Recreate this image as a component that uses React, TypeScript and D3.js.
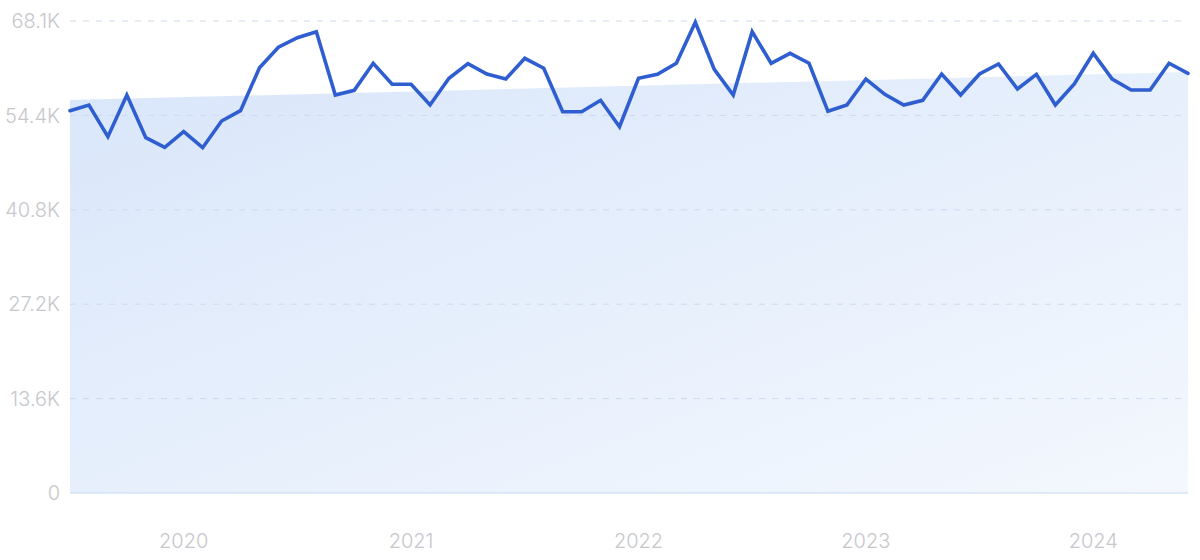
import React from "react";
import * as d3 from "d3";

// Monthly values, Jul 2019 .. Jun 2024
const months: string[] = d3
  .timeMonths(new Date(2019, 6, 1), new Date(2024, 6, 1))
  .map((d) => d3.timeFormat("%Y-%m")(d));

const values: number[] = [
  55160, 55980, 51410, 57420, 51260, 49880, 52130, 49820, 53670, 55160,
  61360, 64310, 65690, 66560, 57420, 58100, 62000, 58970, 58970, 55980,
  59830, 61940, 60450, 59730, 62720, 61280, 55010, 55010, 56660, 52850,
  59830, 60410, 62000, 67910, 61130, 57420, 66560, 62000, 63440, 62000,
  55070, 55980, 59730, 57520, 55980, 56660, 60450, 57420, 60450, 61900,
  58290, 60410, 55980, 59010, 63440, 59730, 58150, 58150, 62000, 60550,
];

// Trend (start, end) shown as the shaded area
const trendValues: number[] = [56700, 60750];

const yTicks: number[] = [0, 13620, 27240, 40860, 54480, 68100];
const yTickLabels: string[] = ["0", "13.6K", "27.2K", "40.8K", "54.4K", "68.1K"];
const yearLabels: string[] = ["2020", "2021", "2022", "2023", "2024"];

const W = 1200;
const H = 560;
const left = 70;
const right = 1188;
const top = 21;
const bottom = 493;

export default function App() {
  const x = d3.scalePoint<string>().domain(months).range([left, right]);
  const y = d3.scaleLinear().domain([0, 68100]).range([bottom, top]);

  const line = d3
    .line<number>()
    .x((_, i) => x(months[i]) as number)
    .y((d) => y(d));

  const trendPts: [number, number][] = [
    [x(months[0]) as number, y(trendValues[0])],
    [x(months[months.length - 1]) as number, y(trendValues[1])],
  ];
  const area = d3
    .area<[number, number]>()
    .x((d) => d[0])
    .y0(y(0))
    .y1((d) => d[1]);

  const font = "Inter, 'Noto Sans', sans-serif";
  const labelColor = "#c6c7cc";

  return (
    <svg
      width={W}
      height={H}
      style={{ position: "absolute", left: 0, top: 0, background: "#fff" }}
    >
      <defs>
        <linearGradient id="fillGrad" x1="0" y1="0" x2="1" y2="1">
          <stop offset="0%" stopColor="#d9e6fa" />
          <stop offset="100%" stopColor="#f4f8fe" />
        </linearGradient>
      </defs>
      <path d={area(trendPts) as string} fill="url(#fillGrad)" />
      {yTicks.map((t, i) =>
        i === 0 ? null : (
          <line
            key={"g" + i}
            x1={left}
            x2={right}
            y1={y(t)}
            y2={y(t)}
            stroke="#cddaee"
            strokeWidth={1}
            strokeDasharray="6,7"
          />
        )
      )}
      <line x1={left} x2={right} y1={y(0)} y2={y(0)} stroke="#c6daf3" strokeWidth={1.2} />
      {yTicks.map((t, i) => (
        <text
          key={"t" + i}
          x={60}
          y={y(t)}
          dy="0.36em"
          textAnchor="end"
          fontFamily={font}
          fontSize={20}
          fontWeight={300}
          fill={labelColor}
        >
          {yTickLabels[i]}
        </text>
      ))}
      {yearLabels.map((yr) => (
        <text
          key={yr}
          x={x(yr + "-01") as number}
          y={548}
          textAnchor="middle"
          fontFamily={font}
          fontSize={20}
          fontWeight={300}
          fill={labelColor}
        >
          {yr}
        </text>
      ))}
      <path
        d={line(values) as string}
        fill="none"
        stroke="#2e5ed0"
        strokeWidth={3.6}
        strokeLinejoin="miter"
        strokeLinecap="round"
      />
    </svg>
  );
}
